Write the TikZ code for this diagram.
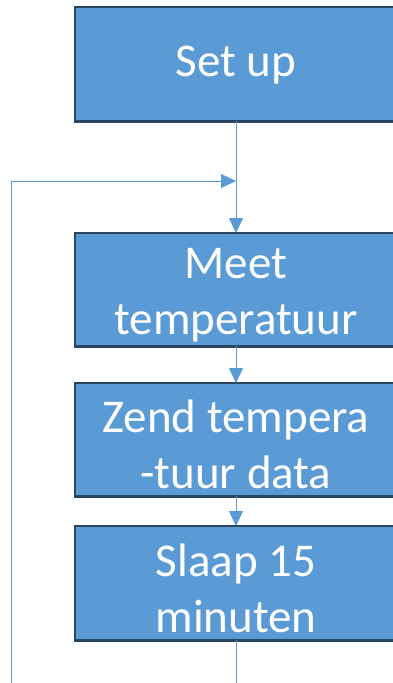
\documentclass[tikz,border=0pt]{standalone}
\usepackage{fontspec}
\setmainfont{Carlito}
\usetikzlibrary{arrows.meta,backgrounds}
\definecolor{boxblue}{HTML}{5B9BD5}
\definecolor{boxedge}{HTML}{2A4560}
\definecolor{linkblue}{HTML}{5B9BD5}
\begin{document}
\begin{tikzpicture}[x=1pt,y=-1pt,
  stepbox/.style={minimum width=322pt, anchor=north, inner sep=0pt},
  frame/.style={draw=boxedge, line width=2.2pt, fill=boxblue},
  steptext/.style={text=white, inner sep=0pt,
    font=\fontsize{47}{56}\selectfont, align=center},
  link/.style={draw=linkblue, line width=1pt},
  linkarrow/.style={link, -{Triangle[length=15pt,width=14pt]}}]
\useasboundingbox (0,0) rectangle (392,683);
\clip (0,0) rectangle (392,683);
\node[stepbox, minimum height=114pt] (setup) at (236,7) {};
\node[stepbox, minimum height=113pt] (meet) at (236,233) {};
\node[stepbox, minimum height=113pt] (zend) at (236,383) {};
\node[stepbox, minimum height=114pt] (slaap) at (236,526) {};
\begin{scope}[on background layer]
\foreach \n in {setup,meet,zend,slaap}
  \draw[frame] (\n.north west) rectangle ([xshift=30pt]\n.south east);
\end{scope}
\node[steptext] (setuptext) at ([yshift=-1pt]setup.center) {Set up};
\node[steptext] (meettext) at ([yshift=-6pt]meet.center) {Meet\\temperatuur};
\node[steptext] (zendtext) at ([yshift=-5pt]zend.center) {Zend tempera\\-tuur data};
\node[steptext] (slaaptext) at ([yshift=-5pt]slaap.center) {Slaap 15\\minuten};
\coordinate (join) at (236,181);
\coordinate (loopbot) at (11,690);
\coordinate (looptop) at (11,181);
\coordinate (slaapend) at (236,690);
\draw[linkarrow] (setup.south) -- (meet.north);
\draw[linkarrow] (meet.south) -- (zend.north);
\draw[linkarrow] (zend.south) -- (slaap.north);
\draw[link] (slaap.south) -- (slaapend);
\draw[linkarrow] (loopbot) -- (looptop) -- (join);
\end{tikzpicture}
\end{document}
